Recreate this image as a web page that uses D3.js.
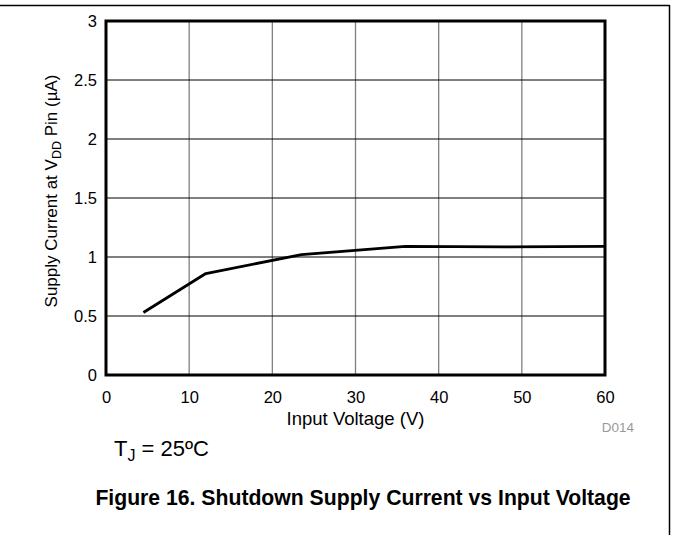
<!DOCTYPE html>
<html><head><meta charset="utf-8">
<script src="https://cdn.jsdelivr.net/npm/d3@7"></script>
<style>body{margin:0;background:#fff}svg{display:block}text{font-family:"Liberation Sans",Arial,sans-serif}</style>
</head><body>
<script>
const xVals = [4.5, 12, 23.5, 36, 48, 60];
const yVals = [0.53, 0.86, 1.02, 1.09, 1.085, 1.09];
const xTicks = [0, 10, 20, 30, 40, 50, 60];
const yTicks = [0, 0.5, 1, 1.5, 2, 2.5, 3];

const W = 673, H = 535;
const m = {l: 106, r: 605, t: 21, b: 375};
const svg = d3.select("body").append("svg").attr("width", W).attr("height", H);

const x = d3.scaleLinear().domain([0, 60]).range([m.l, m.r]);
const y = d3.scaleLinear().domain([0, 3]).range([m.b, m.t]);

// page border lines
svg.append("line").attr("x1", 0).attr("x2", 669.5).attr("y1", 5.5).attr("y2", 5.5).attr("stroke", "#000").attr("stroke-width", 1.5);
svg.append("line").attr("x1", 669.5).attr("x2", 669.5).attr("y1", 5).attr("y2", H).attr("stroke", "#000").attr("stroke-width", 1.5);

// grid
svg.append("g").selectAll("line").data(xTicks.slice(1, -1)).join("line")
  .attr("x1", d => x(d)).attr("x2", d => x(d)).attr("y1", m.t).attr("y2", m.b)
  .attr("stroke", "#808080").attr("stroke-width", 1.3);
svg.append("g").selectAll("line").data(yTicks.slice(1, -1)).join("line")
  .attr("x1", m.l).attr("x2", m.r).attr("y1", d => y(d)).attr("y2", d => y(d))
  .attr("stroke", "#000").attr("stroke-width", 1);

// axes labels via d3 axes
const xAxis = svg.append("g").attr("transform", `translate(0,${m.b})`)
  .call(d3.axisBottom(x).tickValues(xTicks).tickSize(0).tickPadding(16).tickFormat(d3.format("d")));
xAxis.select(".domain").remove();
xAxis.selectAll("text").attr("font-size", 16.5).attr("fill", "#000");

const yAxis = svg.append("g").attr("transform", `translate(${m.l},0)`)
  .call(d3.axisLeft(y).tickValues(yTicks).tickSize(0).tickPadding(9).tickFormat(d => d));
yAxis.select(".domain").remove();
yAxis.selectAll("text").attr("font-size", 16.5).attr("fill", "#000");

// frame
svg.append("rect").attr("x", m.l).attr("y", m.t).attr("width", m.r - m.l).attr("height", m.b - m.t)
  .attr("fill", "none").attr("stroke", "#000").attr("stroke-width", 3);

// data line
const pts = xVals.map((v, i) => [v, yVals[i]]);
svg.append("path").datum(pts)
  .attr("d", d3.line().x(d => x(d[0])).y(d => y(d[1])))
  .attr("fill", "none").attr("stroke", "#000").attr("stroke-width", 2.8).attr("stroke-linejoin", "round");

// x label
svg.append("text").attr("x", (m.l + m.r) / 2).attr("y", 425).attr("text-anchor", "middle")
  .attr("font-size", 18.5).text("Input Voltage (V)");

// y label
const yl = svg.append("text").attr("transform", `translate(57,191) rotate(-90)`)
  .attr("text-anchor", "middle").attr("font-size", 17);
yl.append("tspan").text("Supply Current at V");
yl.append("tspan").attr("font-size", 12.5).attr("dy", 4).text("DD");
yl.append("tspan").attr("dy", -4).text(" Pin (µA)");

// D014
svg.append("text").attr("x", 618).attr("y", 432).attr("text-anchor", "middle")
  .attr("font-size", 13.5).attr("fill", "#999").text("D014");

// TJ
const tj = svg.append("text").attr("x", 114).attr("y", 456).attr("font-size", 22);
tj.append("tspan").text("T");
tj.append("tspan").attr("font-size", 16).attr("dy", 5).text("J");
tj.append("tspan").attr("dy", -5).text(" = 25ºC");

// title
svg.append("text").attr("x", 363).attr("y", 505).attr("text-anchor", "middle")
  .attr("font-size", 21.2).attr("font-weight", "bold").text("Figure 16. Shutdown Supply Current vs Input Voltage");
</script>
</body></html>
